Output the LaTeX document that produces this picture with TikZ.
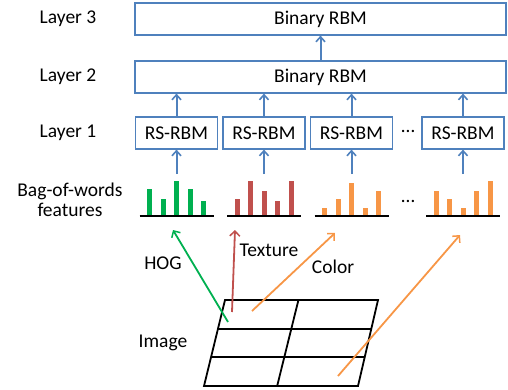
\documentclass[tikz,border=0pt]{standalone}
\usepackage{fontspec}
\setmainfont{Carlito}
\usetikzlibrary{arrows.meta,calc}
\definecolor{rbmblue}{RGB}{79,129,189}
\definecolor{hoggreen}{RGB}{0,176,80}
\definecolor{texred}{RGB}{192,80,77}
\definecolor{colorange}{RGB}{247,150,70}
\tikzset{
    rbmbox/.style={draw=rbmblue, line width=1.2, minimum height=32, inner sep=0},
    uparrow/.style={draw=rbmblue, line width=2, -{Straight Barb[length=5pt, width=9pt, line width=1.6pt]}},
    featarrow/.style={line width=1.8, -{Straight Barb[length=5pt, width=10pt, line width=1.5pt]}},
}
% bars of one bag-of-words histogram: name, centre x, colour, bar heights
\newcommand{\drawhist}[4]{
    \foreach \h [count=\i] in {#4} {
        \fill[#3] (#2-43+13.5*\i, 216) rectangle ++(5, -\h);
    }
    \draw[line width=2.2] (#2-37, 216) -- (#2+37, 216);
    \coordinate (#1) at (#2, 174);
}

\begin{document}
\begin{tikzpicture}[x=1pt, y=-1pt, font=\fontsize{19.5}{23}\selectfont]
\useasboundingbox (0,0) rectangle (508,389);

% Layer labels
\node (lab3) at (68, 19) {Layer 3};
\node (lab2) at (68, 77) {Layer 2};
\node (lab1) at (68, 133) {Layer 1};
\node[align=center, inner sep=0] (labbow) at (70, 200) {Bag-of-words\\[-3pt]features};

% Binary RBMs
\node[rbmbox, minimum width=371] (top) at (320.5, 19) {Binary RBM};
\node[rbmbox, minimum width=371] (mid) at (320.5, 77) {Binary RBM};

% RS-RBMs
\node[rbmbox, minimum width=82] (rs1) at (176.5, 133) {RS-RBM};
\node[rbmbox, minimum width=82] (rs2) at (264, 133) {RS-RBM};
\node[rbmbox, minimum width=82] (rs3) at (351.5, 133) {RS-RBM};
\node[rbmbox, minimum width=82] (rs4) at (463, 133) {RS-RBM};
\node[anchor=base] (dotsA) at (408, 136) {\raisebox{4pt}{…}};

\draw[uparrow] (mid.north) -- (top.south);
\foreach \r in {rs1,rs2,rs3,rs4} {
    \draw[uparrow] (\r.north) -- (\r.north |- mid.south);
}

% Histograms
\drawhist{h1}{176.5}{hoggreen}{27,17,35,27,15}
\drawhist{h2}{264}{texred}{17,35,25,15,35}
\drawhist{h3}{351.5}{colorange}{8,17,33,8,25}
\drawhist{h4}{463}{colorange}{25,17,8,25,35}
\node[anchor=base] (dotsB) at (408, 206) {\raisebox{4pt}{…}};

\draw[uparrow] (h1) -- (rs1.south);
\draw[uparrow] (h2) -- (rs2.south);
\draw[uparrow] (h3) -- (rs3.south);
\draw[uparrow] (h4) -- (rs4.south);

% Image grid
\coordinate (tl) at (225, 300);
\coordinate (tr) at (378, 300);
\coordinate (br) at (358, 386);
\coordinate (bl) at (204, 386);
\draw[line width=1.8] (tl) -- (tr) -- (br) -- (bl) -- cycle;
\draw[line width=1.8] ($(tl)!1/3!(bl)$) -- ($(tr)!1/3!(br)$);
\draw[line width=1.8] ($(tl)!2/3!(bl)$) -- ($(tr)!2/3!(br)$);
\draw[line width=1.8] ($(tl)!0.48!(tr)$) -- ($(bl)!0.475!(br)$);
\node (img) at (163, 343) {Image};

% Feature arrows
\coordinate (hogS) at (228, 322);
\coordinate (hogE) at (173, 230);
\coordinate (texS) at (232, 312);
\coordinate (texE) at (235, 230);
\coordinate (colS) at (252, 311);
\coordinate (colE) at (335, 233);
\coordinate (col2S) at (338, 376);
\coordinate (col2E) at (460, 235);
\draw[featarrow, hoggreen] (hogS) -- (hogE);
\draw[featarrow, texred] (texS) -- (texE);
\draw[featarrow, colorange] (colS) -- (colE);
\draw[featarrow, colorange] (col2S) -- (col2E);
\node (hog) at (163, 263) {HOG};
\node (tex) at (269, 250) {Texture};
\node (col) at (333, 267) {Color};

\end{tikzpicture}
\end{document}
